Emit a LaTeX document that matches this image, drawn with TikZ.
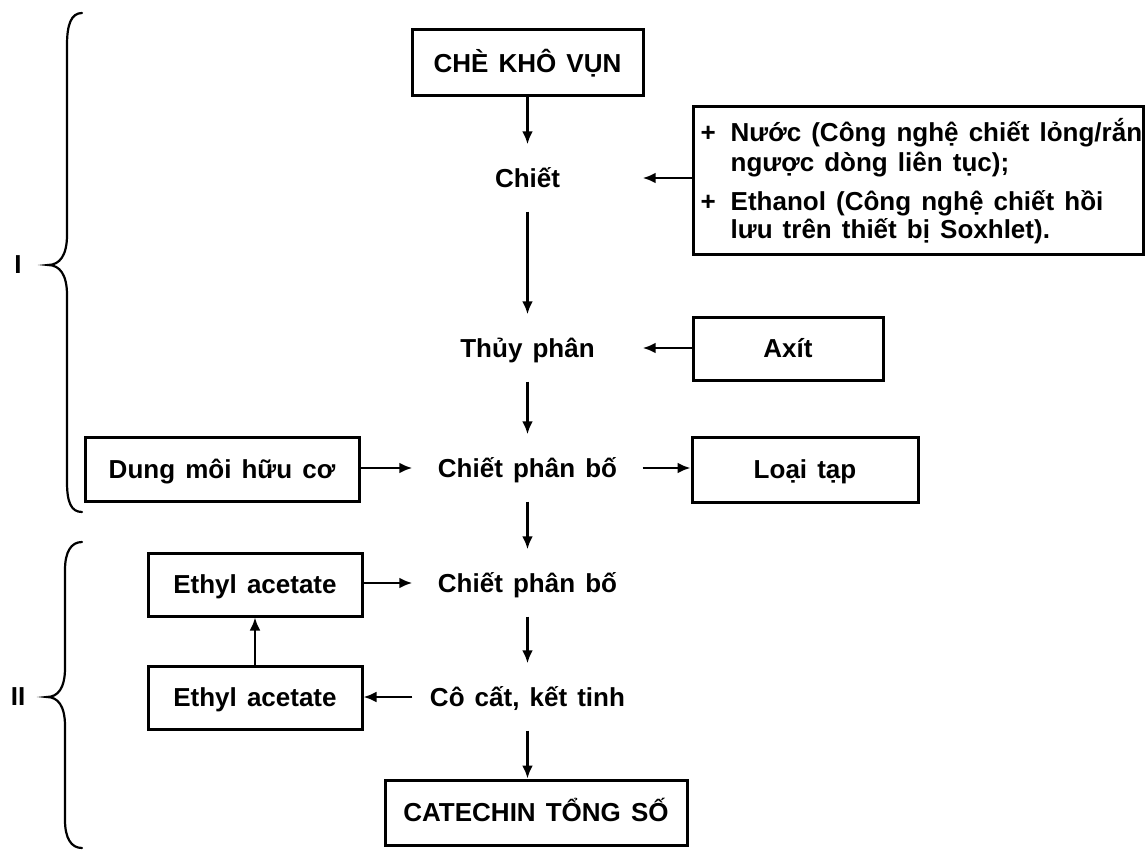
\documentclass[tikz,border=0pt]{standalone}
\usepackage{fontspec}
\setmainfont{Liberation Sans}[WordSpace=1.4]
\usetikzlibrary{arrows.meta}
\begin{document}
\begin{tikzpicture}[x=1pt,y=-1pt,
  txt/.style={font=\fontsize{26}{30}\selectfont\bfseries},
  box/.style={txt, draw, line width=3pt, rectangle, inner sep=0pt, text height=18.5pt, text depth=0pt},
  lbl/.style={txt, inner sep=0pt, minimum width=230pt, minimum height=67pt, text height=18.5pt, text depth=0pt},
  arr/.style={line width=2.8pt, -{Latex[length=13pt,width=11pt]}},
  brace/.style={line width=2.2pt, line cap=round},
  line/.style={txt, inner sep=0pt, anchor=base west}
]
\useasboundingbox (0,0) rectangle (1145,850);
\fill[white] (0,0) rectangle (1145,850);

% main column
\node[box, minimum width=231pt, minimum height=66pt] (top) at (527.5,63) {CHÈ KHÔ VỤN};
\node[lbl] (chiet) at (527.5,178) {Chiết};
\node[lbl] (thuy) at (527.5,348) {Thủy phân};
\node[lbl] (cpb1) at (527.5,468) {Chiết phân bố};
\node[lbl] (cpb2) at (527.5,583) {Chiết phân bố};
\node[lbl] (cocat) at (527.5,697) {Cô cất, kết tinh};
\node[box, minimum width=302pt, minimum height=65pt] (cat) at (536,812.5) {CATECHIN TỔNG SỐ};

% side boxes
\node[box, minimum width=450pt, minimum height=148pt] (water) at (918,181) {};
\node[line] (w1) at ([xshift=9pt,yshift=-36pt]water.north west) {\makebox[30pt][l]{+}Nước (Công nghệ chiết lỏng/rắn};
\node[line] (w2) at ([xshift=39pt,yshift=-66pt]water.north west) {ngược dòng liên tục);};
\node[line] (w3) at ([xshift=9pt,yshift=-105pt]water.north west) {\makebox[30pt][l]{+}Ethanol (Công nghệ chiết hồi};
\node[line] (w4) at ([xshift=39pt,yshift=-133pt]water.north west) {lưu trên thiết bị Soxhlet).};

\node[box, minimum width=190pt, minimum height=63pt] (axit) at (788,348.5) {Axít};
\node[box, minimum width=226pt, minimum height=65pt] (loai) at (805,469.5) {Loại tạp};
\node[box, minimum width=274pt, minimum height=64pt] (dung) at (222,469) {Dung môi hữu cơ};
\node[box, minimum width=214pt, minimum height=63pt] (eth1) at (255,584.5) {Ethyl acetate};
\node[box, minimum width=214pt, minimum height=63pt] (eth2) at (255,697.5) {Ethyl acetate};

% vertical arrows
\draw[arr] (top) -- (chiet);
\draw[arr] (chiet) -- (thuy);
\draw[arr] (thuy) -- (cpb1);
\draw[arr] (cpb1) -- (cpb2);
\draw[arr] (cpb2) -- (cocat);
\draw[arr] (cocat.south) -- (cocat.south |- cat.north);
\draw[arr] (eth2) -- (eth1);

% horizontal arrows
\draw[arr] (water.west |- chiet.east) -- (chiet.east);
\draw[arr] (axit.west |- thuy.east) -- (thuy.east);
\draw[arr] (dung.east |- cpb1.west) -- (cpb1.west);
\draw[arr] (cpb1.east) -- (loai.west |- cpb1.east);
\draw[arr] (eth1.east |- cpb2.west) -- (cpb2.west);
\draw[arr] (cocat.west) -- (eth2.east |- cocat.west);

% braces
\draw[brace] (82,13) .. controls (71,13) and (67,25) .. (67,45) -- (67,235)
  .. controls (67,255) and (60,265) .. (48,265)
  .. controls (60,265) and (67,275) .. (67,295) -- (67,482)
  .. controls (67,502) and (71,512) .. (82,512);
\draw[brace] (82,542) .. controls (71,542) and (65,552) .. (65,570) -- (65,668)
  .. controls (65,688) and (58,697) .. (47,697)
  .. controls (58,697) and (65,706) .. (65,726) -- (65,820)
  .. controls (65,838) and (71,848) .. (82,848);
\node[txt, inner sep=0pt] (lab1) at (18,265) {I};
\node[txt, inner sep=0pt] (lab2) at (18,697) {II};
\end{tikzpicture}
\end{document}
